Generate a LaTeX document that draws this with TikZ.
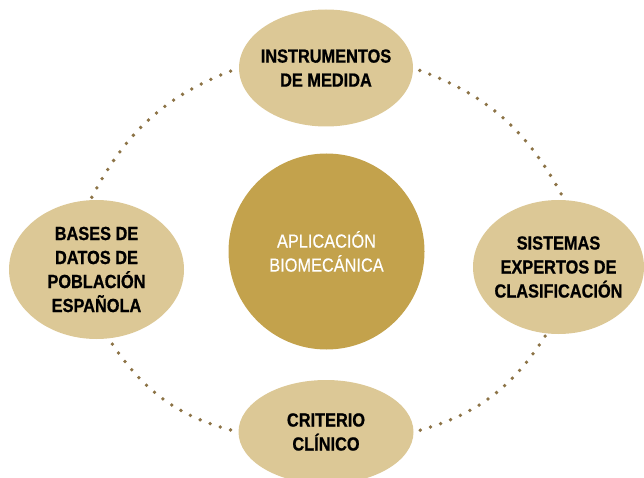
\documentclass[tikz,border=0pt]{standalone}
\usepackage{fontspec}
\setmainfont{Liberation Sans}[FakeStretch=0.86,
  UprightFeatures={FakeBold=0.4}, BoldFeatures={FakeBold=0.8}]
\usetikzlibrary{shapes.geometric}

\definecolor{ovalfill}{RGB}{220,200,150}
\definecolor{hubfill}{RGB}{195,162,76}
\definecolor{dotline}{RGB}{140,115,70}

\tikzset{
  topic/.style={ellipse, fill=ovalfill, inner sep=0pt},
  topictext/.style={inner sep=0pt, align=center, text=black,
    font=\bfseries\fontsize{19}{24}\selectfont},
  hub/.style={circle, fill=hubfill, inner sep=0pt, minimum size=196pt},
  hubtext/.style={inner sep=0pt, align=center, text=white,
    font=\fontsize{19}{24}\selectfont},
  link/.style={draw=dotline, line width=3.8pt, line cap=round,
    dash pattern=on 0pt off 10.7pt}
}

\begin{document}
\begin{tikzpicture}[x=1pt, y=-1pt]

\useasboundingbox (0,0) rectangle (644,478);

% ovals
\node[topic, minimum width=174pt, minimum height=117pt] (measure) at (326,68) {};
\node[topic, minimum width=175pt, minimum height=139pt] (database) at (96.5,269.5) {};
\node[topic, minimum width=171pt, minimum height=134pt] (expert) at (558.5,267) {};
\node[topic, minimum width=175pt, minimum height=104pt] (clinic) at (326,432) {};
\node[hub] (biomech) at (326.5,251.5) {};

% labels
\node[topictext] (measure-t) at (measure) {INSTRUMENTOS\\DE MEDIDA};
\node[topictext] (database-t) at (database) {BASES DE\\DATOS DE\\POBLACIÓN\\ESPAÑOLA};
\node[topictext] (expert-t) at (expert) {SISTEMAS\\EXPERTOS DE\\CLASIFICACIÓN};
\node[topictext] (clinic-t) at (clinic) {CRITERIO\\CLÍNICO};
\node[hubtext] (biomech-t) at (biomech) {APLICACIÓN\\BIOMECÁNICA};

% dotted ring
\draw[link, shorten <=3pt, shorten >=7pt] (database.95) to[bend left=21] (measure.west);
\draw[link, shorten <=7pt, shorten >=3pt] (measure.east) to[bend left=21] (expert.85);
\draw[link, shorten <=3pt, shorten >=5pt] (expert.-100) to[bend left=21] (clinic.east);
\draw[link, shorten <=8pt, shorten >=3pt] (clinic.west) to[bend left=21] (database.-80);

\end{tikzpicture}
\end{document}
